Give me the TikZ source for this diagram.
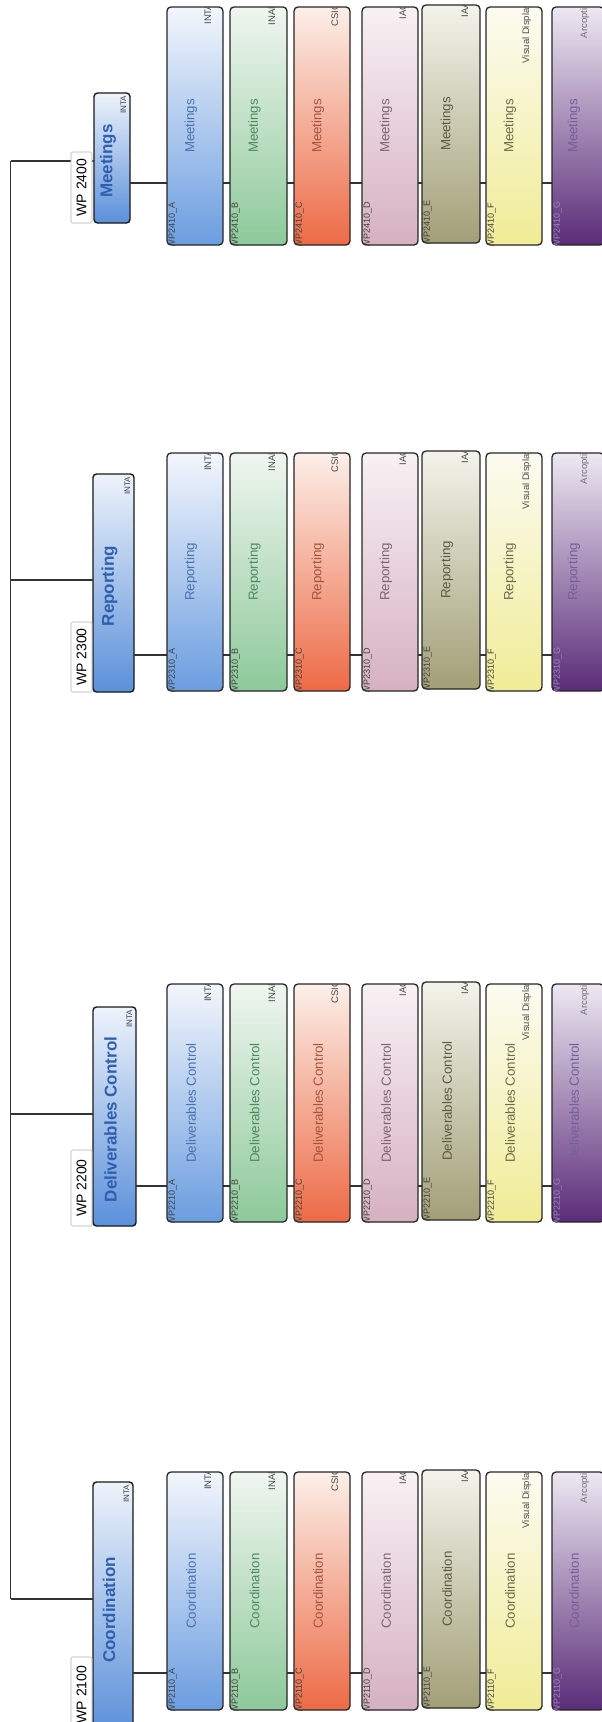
\documentclass[tikz,border=0pt]{standalone}
\usepackage{fontspec}
\setmainfont{Liberation Sans}
\usetikzlibrary{calc}

% partner column colours: t = light end, b = saturated end, x = task text,
% i = id label, o = partner label
\definecolor{cAt}{HTML}{F3F6FC}\definecolor{cAb}{HTML}{6B9DE0}\definecolor{cAx}{HTML}{4A72AD}
\definecolor{cBt}{HTML}{F0F6F0}\definecolor{cBb}{HTML}{8DC99A}\definecolor{cBx}{HTML}{4E8A5E}
\definecolor{cCt}{HTML}{FCEFE9}\definecolor{cCb}{HTML}{ED6A45}\definecolor{cCx}{HTML}{A4553C}
\definecolor{cDt}{HTML}{F8F1F4}\definecolor{cDb}{HTML}{D6B1C0}\definecolor{cDx}{HTML}{7C6670}
\definecolor{cEt}{HTML}{F3F3EB}\definecolor{cEb}{HTML}{A29F77}\definecolor{cEx}{HTML}{5D5B40}
\definecolor{cFt}{HTML}{FCFBF1}\definecolor{cFb}{HTML}{F0EC96}\definecolor{cFx}{HTML}{6E6B48}
\definecolor{cGt}{HTML}{EDE8F2}\definecolor{cGb}{HTML}{5A2C78}\definecolor{cGx}{HTML}{76609A}
\colorlet{cAi}{black!75}\colorlet{cBi}{black!75}\colorlet{cCi}{black!75}\colorlet{cDi}{black!75}
\colorlet{cEi}{black!75}\colorlet{cFi}{black!75}\definecolor{cGi}{HTML}{9A86BA}
\colorlet{cAo}{black!70}\colorlet{cBo}{black!70}\colorlet{cCo}{black!70}\colorlet{cDo}{black!70}
\colorlet{cEo}{black!70}\colorlet{cFo}{black!70}\colorlet{cGo}{black!55}
\definecolor{pTop}{HTML}{EEF3FB}
\definecolor{pBot}{HTML}{5B90DA}
\definecolor{pTxt}{HTML}{2F5FAE}

\tikzset{
  conn/.style={draw=black!80, line width=1.2pt},
  parentbox/.style={draw=black!90, line width=1.4pt, rounded corners=3.5pt,
    top color=pTop, bottom color=pBot, inner sep=0pt, outer sep=0pt},
  taskbox/.style={draw=black!85, line width=1.3pt, rounded corners=4pt,
    inner sep=0pt, outer sep=0pt},
  wplbl/.style={draw=black!30, fill=white, rounded corners=1.5pt, line width=0.6pt,
    rotate=90, inner sep=0pt, minimum height=21pt,
    font=\fontsize{14}{14}\selectfont},
  titletxt/.style={rotate=90, inner sep=0pt, text=pTxt,
    font=\fontsize{17}{17}\selectfont\bfseries},
  tasktxt/.style={rotate=90, inner sep=0pt, font=\fontsize{13.3}{13.3}\selectfont},
  idlbl/.style={rotate=90, inner sep=0pt, anchor=north west,
    font=\fontsize{9}{9}\selectfont},
  orglbl/.style={rotate=90, inner sep=0pt, anchor=base east,
    font=\fontsize{9.5}{9.5}\selectfont},
  plbl/.style={rotate=90, inner sep=0pt, anchor=base east, text=black!75,
    font=\fontsize{8}{8}\selectfont},
}

% one row of partner tasks: #1 key, #2 top y, #3 task name, #4 WP digits
\newcommand{\taskrow}[4]{%
  \foreach \tk/\lx/\rx/\sy/\ox/\who in {A/167/223/0/-12/INTA,B/230/287/0/-12/INAF,
      C/294/350/0/-12/CSIC,D/362/418/0/-12/IAC,E/422/480/-2/-12/IAA,
      F/486/542/0/-13/{Visual Display},G/552/604/0/-17/Arcoptix}{
    \node[taskbox, top color=c\tk t, bottom color=c\tk b,
      minimum width={(\rx-\lx)*1pt}, minimum height=238pt]
      (#1\tk) at ({(\lx+\rx)/2},{#2+\sy+119}) {};
    \node[tasktxt, text=c\tk x] (#1\tk-txt) at ([xshift=-4pt]#1\tk.center) {#3};
    \begin{scope}
      \clip[rounded corners=4pt] (#1\tk.south west) rectangle (#1\tk.north east);
      \node[idlbl, text=c\tk i] (#1\tk-id)
        at ([xshift=1.5pt,yshift=-3.5pt]#1\tk.south west) {WP#410\_\tk};
      \node[orglbl, text=c\tk o] (#1\tk-org)
        at ([xshift=\ox pt,yshift=3.5pt]#1\tk.north east) {\who};
    \end{scope}
  }%
}

\begin{document}
\begin{tikzpicture}[x=1pt,y=-1pt]
  \clip (0,0) rectangle (602,1722);
  \fill[white] (0,0) rectangle (602,1722);

  % work package boxes
  \node[parentbox, minimum width=36pt, minimum height=130pt] (p24) at (112,158) {};
  \node[parentbox, minimum width=41pt, minimum height=218pt] (p23) at (113.5,583) {};
  \node[parentbox, minimum width=43pt, minimum height=219pt] (p22) at (114.5,1116.5) {};
  \node[parentbox, minimum width=40pt, minimum height=250pt] (p21) at (113,1607) {};

  % trunk and branches
  \coordinate (t24) at (10.5,161);
  \coordinate (t23) at (10.5,580);
  \coordinate (t22) at (10.5,1114);
  \coordinate (t21) at (10.5,1599);
  \draw[conn] (t24) -- (t21);
  \draw[conn] (t24) -- (t24 -| p24.west);
  \draw[conn] (t23) -- (t23 -| p23.west);
  \draw[conn] (t22) -- (t22 -| p22.west);
  \draw[conn] (t21) -- (t21 -| p21.west);

  % lines from each work package to its partner tasks
  \coordinate (e24) at (625,183);
  \coordinate (e23) at (625,655);
  \coordinate (e22) at (625,1186);
  \coordinate (e21) at (625,1673);
  \draw[conn] (p24.east |- e24) -- (e24);
  \draw[conn] (p23.east |- e23) -- (e23);
  \draw[conn] (p22.east |- e22) -- (e22);
  \draw[conn] (p21.east |- e21) -- (e21);

  % work package titles
  \node[titletxt] (p24-t) at ([xshift=-4pt,yshift=-3pt]p24.center) {Meetings};
  \node[titletxt] (p23-t) at ([xshift=-4pt,yshift=-3pt]p23.center) {Reporting};
  \node[titletxt] (p22-t) at ([xshift=-4pt,yshift=-3pt]p22.center) {Deliverables Control};
  \node[titletxt] (p21-t) at ([xshift=-4pt,yshift=-3pt]p21.center) {Coordination};
  \node[plbl] (p24-o) at ([xshift=-4pt,yshift=-3pt]p24.north east) {INTA};
  \node[plbl] (p23-o) at ([xshift=-4pt,yshift=-3pt]p23.north east) {INTA};
  \node[plbl] (p22-o) at ([xshift=-4pt,yshift=-3pt]p22.north east) {INTA};
  \node[plbl] (p21-o) at ([xshift=-4pt,yshift=-3pt]p21.north east) {INTA};

  % work package numbers
  \node[wplbl, minimum width=71pt] (w24) at (81.5,187.5) {WP 2400};
  \node[wplbl, minimum width=70pt] (w23) at (81.5,657) {WP 2300};
  \node[wplbl, minimum width=76pt] (w22) at (81.5,1188) {WP 2200};
  \node[wplbl, minimum width=75pt] (w21) at (81.5,1694.5) {WP 2100};

  % partner tasks
  \taskrow{m}{7}{Meetings}{24}
  \taskrow{r}{453}{Reporting}{23}
  \taskrow{d}{984}{Deliverables Control}{22}
  \taskrow{c}{1472}{Coordination}{21}
\end{tikzpicture}
\end{document}
